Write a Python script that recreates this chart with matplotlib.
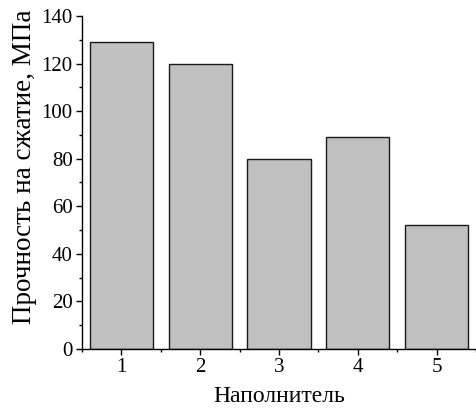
import matplotlib
matplotlib.use("Agg")
import matplotlib.pyplot as plt
from matplotlib.ticker import MultipleLocator

plt.rcParams['font.family'] = ['Liberation Serif', 'DejaVu Serif']

fillers = [1, 2, 3, 4, 5]
strength = [129, 120, 80, 89, 52]
y_ticks = [0, 20, 40, 60, 80, 100, 120, 140]

fig = plt.figure(figsize=(4.76, 4.12), dpi=100)
ax = fig.add_axes([0.1723, 0.1529, 0.8277, 0.8083])

ax.bar(fillers, strength, width=0.8, color='#c0c0c0', edgecolor='#1a1a1a', linewidth=1.0)

ax.set_xlim(0.5, 5.5)
ax.set_ylim(0, 140)
ax.set_xticks(fillers)
ax.set_yticks(y_ticks)
ax.xaxis.set_minor_locator(MultipleLocator(0.5))
ax.yaxis.set_minor_locator(MultipleLocator(10))

for side in ('top', 'right'):
    ax.spines[side].set_visible(False)
for side in ('left', 'bottom'):
    ax.spines[side].set_linewidth(1.0)

ax.tick_params(which='major', direction='out', length=4.3, width=1.0, labelsize=15)
ax.tick_params(axis='x', which='major', pad=2)
ax.tick_params(axis='y', which='major', pad=2.5)
ax.tick_params(which='minor', direction='out', length=2.5, width=1.0)

ax.set_xlabel('Наполнитель', fontsize=17, labelpad=7)
ax.set_ylabel('Прочность на сжатие, МПа', fontsize=19.5)
ax.yaxis.set_label_coords(-0.115, 0.546)

fig.savefig('out.png', dpi=100)
